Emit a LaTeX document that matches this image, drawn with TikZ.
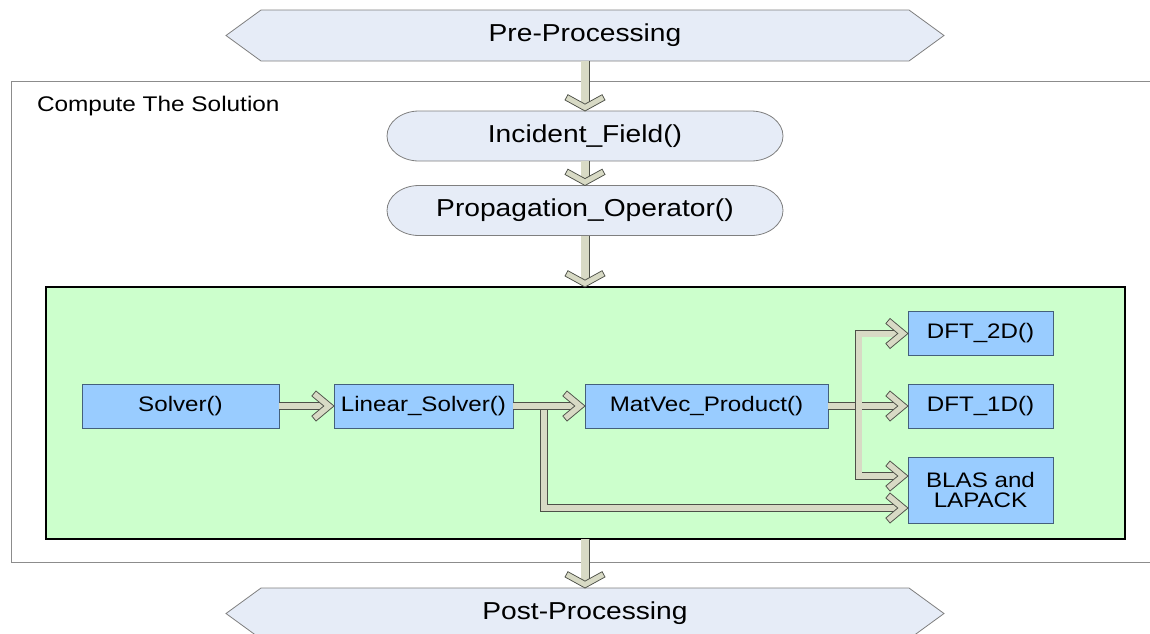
\documentclass[tikz,border=0pt]{standalone}
\usepackage{fontspec}
\setmainfont{Liberation Sans}[FakeStretch=1.15]
\usetikzlibrary{calc}
\pgfdeclarelayer{background}
\pgfsetlayers{background,main}
\definecolor{hexfill}{HTML}{E6ECF7}
\definecolor{shapeline}{HTML}{7F7F7F}
\definecolor{framegray}{HTML}{8C8C8C}
\definecolor{panelgreen}{HTML}{CCFFCC}
\definecolor{boxblue}{HTML}{99CCFF}
\definecolor{boxline}{HTML}{44607C}
\definecolor{shaftfill}{HTML}{D8DAC5}
\definecolor{shaftline}{HTML}{4D5048}
\tikzset{
  every node/.style={inner sep=0pt, outer sep=0pt},
  bigtext/.style={font=\fontsize{24.5}{28}\selectfont},
  boxtext/.style={font=\fontsize{21}{20}\selectfont},
  hexnode/.style={bigtext, minimum width=718pt, minimum height=51pt},
  capnode/.style={bigtext, minimum width=396pt, minimum height=50pt},
  fnbox/.style={boxtext, draw=boxline, fill=boxblue, line width=0.8pt,
    minimum height=44pt, align=center},
  outline/.style={fill=hexfill, draw=shapeline, line width=0.8pt},
  vshaft/.style={draw=shaftline, line width=0.75pt, double=shaftfill,
    double distance=7.5pt},
  hshaft/.style={draw=shaftline, line width=0.75pt, double=shaftfill,
    double distance=6pt, line join=miter},
  chevron/.style={fill=shaftfill, draw=shaftline, line width=0.75pt, line join=miter},
  pics/chevdown/.style={code={
    \path[chevron] (0,0) -- (-20,-11) -- (-17.1,-16.3) -- (0,-6.9)
      -- (17.1,-16.3) -- (20,-11) -- cycle;}},
  pics/chevright/.style={code={
    \path[chevron] (0,0) -- (-18,-15) -- (-22.2,-10) -- (-10.2,0)
      -- (-22.2,10) -- (-18,15) -- cycle;}},
}
\begin{document}
\begin{tikzpicture}[x=1pt, y=-1pt]
\path[use as bounding box, clip] (0,0) rectangle (1150,633);

% enclosing frame and the solver panel
\node[draw=framegray, line width=1pt, minimum width=1160pt, minimum height=481pt,
  anchor=north west] (frame) at (11,81) {};
\node[font=\fontsize{21.2}{24}\selectfont, anchor=west] (title) at (37,106.5) {Compute The Solution};
\node[draw=black, line width=1.5pt, fill=panelgreen, minimum width=1079pt,
  minimum height=252pt, anchor=north west] (panel) at (46,287) {};

% stage labels
\node[hexnode] (pre) at (585,35.5) {Pre-Processing};
\node[capnode] (inc) at (585,136) {Incident\_Field()};
\node[capnode] (prop) at (585,210.5) {Propagation\_Operator()};
\node[hexnode] (post) at (585,613.5) {Post-Processing};

% routines inside the panel
\node[fnbox, minimum width=197pt] (solver) at (180.5,406) {Solver()};
\node[fnbox, minimum width=179pt] (lin) at (423.5,406) {Linear\_Solver()};
\node[fnbox, minimum width=243pt] (mv) at (706.5,406) {MatVec\_Product()};
\node[fnbox, minimum width=145pt] (dft2) at (980.5,333.5) {DFT\_2D()};
\node[fnbox, minimum width=145pt] (dft1) at (980.5,406) {DFT\_1D()};
\node[fnbox, minimum width=145pt, minimum height=66pt] (blas) at (980.5,490) {BLAS and\\LAPACK};

% hexagon and capsule outlines behind the labels
\begin{pgfonlayer}{background}
\foreach \n in {pre,post}{
  \path[outline] (\n.west) -- ([xshift=35pt]\n.north west) -- ([xshift=-35pt]\n.north east)
    -- (\n.east) -- ([xshift=-35pt]\n.south east) -- ([xshift=35pt]\n.south west) -- cycle;
}
\foreach \n in {inc,prop}{
  \path[outline] ([xshift=32pt]\n.north west) -- ([xshift=-32pt]\n.north east)
    arc[start angle=90, end angle=-90, x radius=32pt, y radius=25pt]
    -- ([xshift=32pt]\n.south west)
    arc[start angle=270, end angle=90, x radius=32pt, y radius=25pt] -- cycle;
}
\end{pgfonlayer}

% main vertical flow
\draw[vshaft] (pre.south) -- ([yshift=7pt]inc.north);
\pic at (inc.north) {chevdown};
\draw[vshaft] (inc.south) -- ([yshift=7pt]prop.north);
\pic at (prop.north) {chevdown};
\coordinate (pin) at (prop.south |- panel.north);
\draw[vshaft] (prop.south) -- ([yshift=7pt]pin);
\pic at (pin) {chevdown};
\coordinate (pout) at (post.north |- panel.south);
\draw[vshaft] (pout) -- ([yshift=7pt]post.north);
\pic at (post.north) {chevdown};

% calls inside the panel
\draw[hshaft] (solver.east) -- ([xshift=-11pt]lin.west);
\pic at (lin.west) {chevright};

\coordinate (j1) at ([xshift=31pt]lin.east);
\draw[hshaft] (j1) |- ([shift={(-11pt,-18pt)}]blas.west);
\pic at ([yshift=-18pt]blas.west) {chevright};
\draw[hshaft] (lin.east) -- ([xshift=-11pt]mv.west);
\pic at (mv.west) {chevright};

\coordinate (j2) at ([xshift=30.5pt]mv.east);
\draw[hshaft] (mv.east) -- ([xshift=-11pt]dft1.west);
\pic at (dft1.west) {chevright};
\draw[hshaft] ([xshift=-11pt]dft2.west) -| (j2) |- ([shift={(-11pt,14pt)}]blas.west);
\pic at (dft2.west) {chevright};
\pic at ([yshift=14pt]blas.west) {chevright};
\end{tikzpicture}
\end{document}
